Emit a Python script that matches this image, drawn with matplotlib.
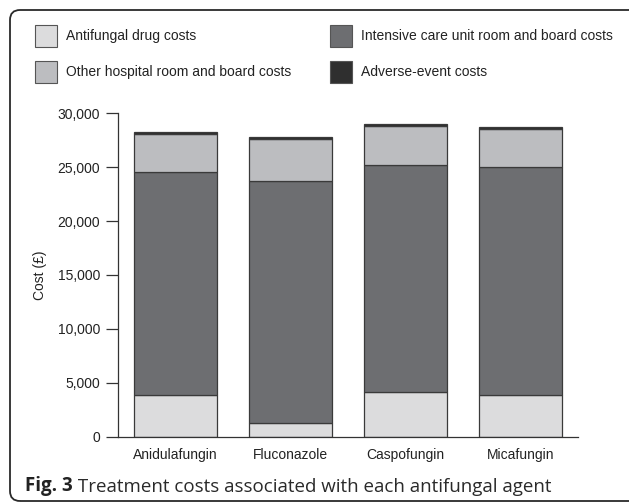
import matplotlib
matplotlib.use('Agg')
import matplotlib.pyplot as plt
from matplotlib.patches import FancyBboxPatch, Rectangle
from matplotlib.ticker import FuncFormatter

# data
drugs = ['Anidulafungin', 'Fluconazole', 'Caspofungin', 'Micafungin']
antifungal = [3870, 1240, 4150, 3860]
icu = [20660, 22480, 21030, 21140]
other_hosp = [3580, 3870, 3640, 3550]
adverse = [200, 180, 170, 220]

series = [
    ('Antifungal drug costs', antifungal, '#dcdcdd'),
    ('Intensive care unit room and board costs', icu, '#6d6e71'),
    ('Other hospital room and board costs', other_hosp, '#bcbdc0'),
    ('Adverse-event costs', adverse, '#2f2f2f'),
]

W, H = 629, 504
plt.rcParams['font.family'] = ['Liberation Sans', 'DejaVu Sans']
fig = plt.figure(figsize=(W / 100, H / 100), dpi=100)

def fx(px):
    return px / W

def fy(py):
    return 1 - py / H

# rounded frame (in inches so the corner stays round)
frame = FancyBboxPatch((0.10, 0.03), 7.0, 4.91,
                       boxstyle='round,pad=0,rounding_size=0.1',
                       transform=fig.dpi_scale_trans, facecolor='none',
                       edgecolor='#2a2a2a', linewidth=1.3, clip_on=False)
fig.add_artist(frame)

ax = fig.add_axes([fx(118.3), fy(436.7), fx(578 - 118.3), (436.7 - 113.3) / H])

bottom = [0] * len(drugs)
for label, vals, color in series:
    ax.bar(range(len(drugs)), vals, width=0.72, bottom=bottom, color=color,
           edgecolor='#3a3a3a', linewidth=0.9, label=label)
    bottom = [b + v for b, v in zip(bottom, vals)]

ax.set_xlim(-0.5, 3.5)
ax.set_ylim(0, 30000)
ax.set_yticks(range(0, 30001, 5000))
ax.yaxis.set_major_formatter(FuncFormatter(lambda v, p: f'{int(v):,}'))
ax.set_xticks(range(len(drugs)))
ax.set_xticklabels(drugs)
for s in ['top', 'right']:
    ax.spines[s].set_visible(False)
for s in ['left', 'bottom']:
    ax.spines[s].set_color('#333333')
    ax.spines[s].set_linewidth(0.9)
ax.tick_params(axis='y', length=8.5, width=0.9, color='#333333', labelsize=10,
               labelcolor='#222222', pad=4.5)
ax.tick_params(axis='x', length=0, labelsize=10, labelcolor='#222222', pad=8)
ax.set_ylabel('Cost (£)', fontsize=10, color='#222222', labelpad=8)

# legend drawn by hand to match the two-column layout
legend_pos = [(35, 25), (330, 25), (35, 61), (330, 61)]
for (label, vals, color), (px, py) in zip(series, legend_pos):
    fig.add_artist(Rectangle((fx(px), fy(py + 22)), fx(22), 22 / H,
                             transform=fig.transFigure, facecolor=color,
                             edgecolor='#555555', linewidth=0.8))
    fig.text(fx(px + 31), fy(py + 11), label, fontsize=10, color='#222222',
             va='center', ha='left')

# caption
cap_font = ['Open Sans', 'DejaVu Sans']
cap1 = fig.text(fx(25), fy(491), 'Fig. 3', fontsize=13.5, fontweight='bold',
                family=cap_font, va='baseline', color='#222222')
ax.annotate(' Treatment costs associated with each antifungal agent',
            xy=(1, 0), xycoords=cap1, va='bottom', ha='left', fontsize=13.5,
            family=cap_font, color='#2a2a2a', annotation_clip=False)

fig.savefig('out.png', dpi=100)
